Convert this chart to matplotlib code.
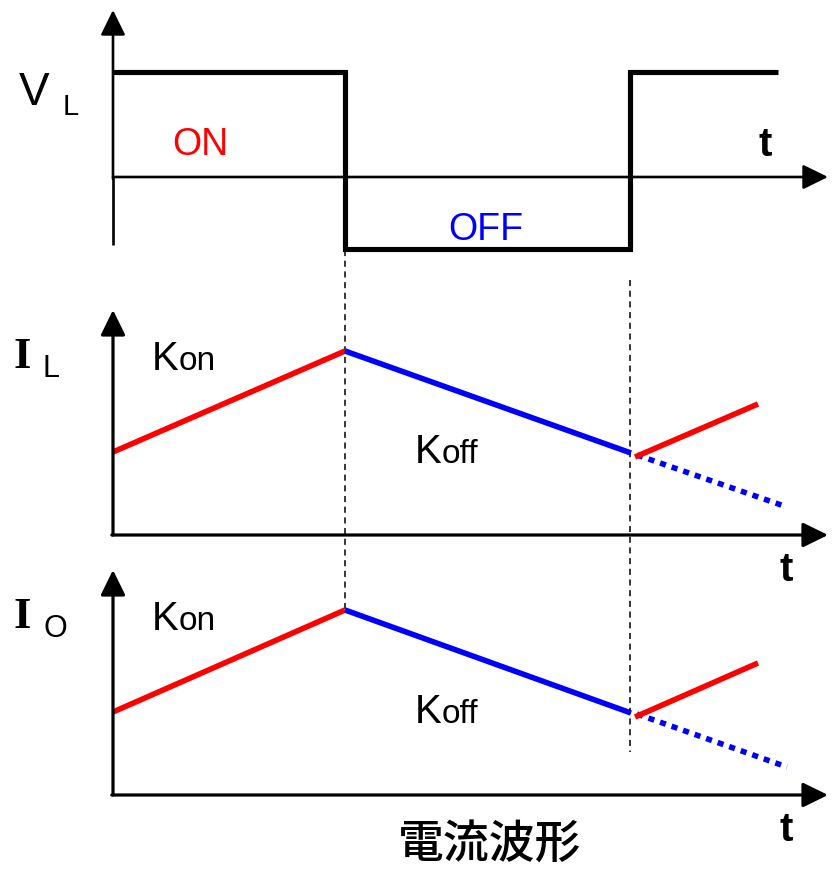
import matplotlib
matplotlib.use('Agg')
import matplotlib.pyplot as plt

# ---- data (time unit = switching-period scale; value units arbitrary) ----
t_off = 2.32          # switch turns OFF
t_on2 = 5.17          # switch turns ON again
t_sq_end = 6.65
t_axis_end = 7.15

vl_t = [0.0, t_off, t_off, t_on2, t_on2, t_sq_end]
vl_v = [1.05, 1.05, -0.72, -0.72, 1.05, 1.05]

il_on1_t = [0.0, t_off];  il_on1_v = [0.83, 1.84]
il_off_t = [t_off, 5.18]; il_off_v = [1.84, 0.82]
il_on2_t = [5.22, 6.45];  il_on2_v = [0.78, 1.31]
il_ext_t = [5.24, 6.74];  il_ext_v = [0.80, 0.28]

io_on1_t = [0.0, t_off];  io_on1_v = [0.83, 1.85]
io_off_t = [t_off, 5.18]; io_off_v = [1.85, 0.82]
io_on2_t = [5.22, 6.45];  io_on2_v = [0.78, 1.32]
io_ext_t = [5.24, 6.74];  io_ext_v = [0.81, 0.28]

RED = '#FF0000'
BLUE = '#0000FF'
SANS = ['Liberation Sans', 'DejaVu Sans']
SERIF = ['Liberation Serif', 'DejaVu Serif']
CJK = ['Noto Sans CJK JP', 'DejaVu Sans']

fig = plt.figure(figsize=(8.33, 8.73), dpi=100)

def make_axes(y0px):
    ax = fig.add_axes([0, 0, 1, 1])
    ax.set_xlim(-1.13, 7.20)
    ax.set_ylim(-(873 - y0px) / 100.0, y0px / 100.0)
    ax.axis('off')
    ax.patch.set_alpha(0)
    return ax

def arrow(ax, start, end, lw):
    ax.annotate('', xy=end, xytext=start,
                arrowprops=dict(arrowstyle='-|>,head_length=0.55,head_width=0.27',
                                mutation_scale=28, lw=lw, color='black',
                                shrinkA=0, shrinkB=0), annotation_clip=False)

def seg(ax, t, v, color, lw=4.0, ls='-'):
    ax.plot(t, v, color=color, lw=lw, ls=ls, solid_capstyle='butt',
            solid_joinstyle='miter', dash_capstyle='butt', clip_on=False)

# ---------- panel 1 : V_L ----------
ax1 = make_axes(177)
ax1.plot([0, 0], [-0.68, 0.0], color='black', lw=1.9, solid_capstyle='butt')
arrow(ax1, (0, -0.02), (0, 1.67), 1.9)
arrow(ax1, (0, 0), (t_axis_end, 0), 1.9)
seg(ax1, vl_t, vl_v, 'black', lw=3.7)
ax1.text(-0.79, 0.84, 'V', fontsize=33, family=SANS, ha='center', va='center')
ax1.text(-0.42, 0.70, 'L', fontsize=21, family=SANS, ha='center', va='center')
ax1.text(0.87, 0.32, 'ON', fontsize=27, family=SANS, color=RED, ha='center', va='center')
ax1.text(3.73, -0.53, 'OFF', fontsize=27, family=SANS, color=BLUE, ha='center', va='center')
ax1.text(6.52, 0.32, 't', fontsize=29, family=SANS, fontweight='bold', ha='center', va='center')
# switching-instant guide lines
ax1.plot([t_off, t_off], [-0.73, -4.33], color='black', lw=1.1, ls=(0, (4, 3)), clip_on=False)
ax1.plot([t_on2, t_on2], [-1.03, -5.75], color='black', lw=1.1, ls=(0, (4, 3)), clip_on=False)

# ---------- panels 2 and 3 : I_L, I_O ----------
def current_panel(y0px, on1, off, on2, ext, sub, iy):
    ax = make_axes(y0px)
    arrow(ax, (0, 0), (0, 2.25), 2.3)
    arrow(ax, (-0.012, 0), (t_axis_end, 0), 2.3)
    seg(ax, on1[0], on1[1], RED)
    seg(ax, off[0], off[1], BLUE)
    seg(ax, ext[0], ext[1], BLUE, lw=4.0, ls=(0, (1.1, 1.1)))
    seg(ax, on2[0], on2[1], RED)
    ax.text(-0.91, iy, 'I', fontsize=32, family=SERIF, fontweight='bold',
            ha='center', va='center')
    ax.text(sub[0], sub[1], sub[2], fontsize=22, family=SANS, ha='center', va='center')
    ax.text(0.39, 1.65, 'K', fontsize=29, family=SANS, ha='left', va='baseline')
    ax.text(0.66, 1.65, 'on', fontsize=24, family=SANS, ha='left', va='baseline')
    ax.text(3.02, 0.72, 'K', fontsize=29, family=SANS, ha='left', va='baseline')
    ax.text(3.29, 0.72, 'off', fontsize=24, family=SANS, ha='left', va='baseline')
    ax.text(6.73, -0.35, 't', fontsize=29, family=SANS, fontweight='bold', ha='center', va='center')
    return ax

ax2 = current_panel(535, (il_on1_t, il_on1_v), (il_off_t, il_off_v),
                    (il_on2_t, il_on2_v), (il_ext_t, il_ext_v),
                    (-0.62, 1.66, 'L'), 1.78)

ax3 = current_panel(795, (io_on1_t, io_on1_v), (io_off_t, io_off_v),
                    (io_on2_t, io_on2_v), (io_ext_t, io_ext_v),
                    (-0.58, 1.66, 'O'), 1.78)

ax3.text(3.77, -0.50, '電流波形', fontsize=33, family=CJK,
         fontweight='medium', ha='center', va='center')

fig.savefig('out.png', dpi=100)
